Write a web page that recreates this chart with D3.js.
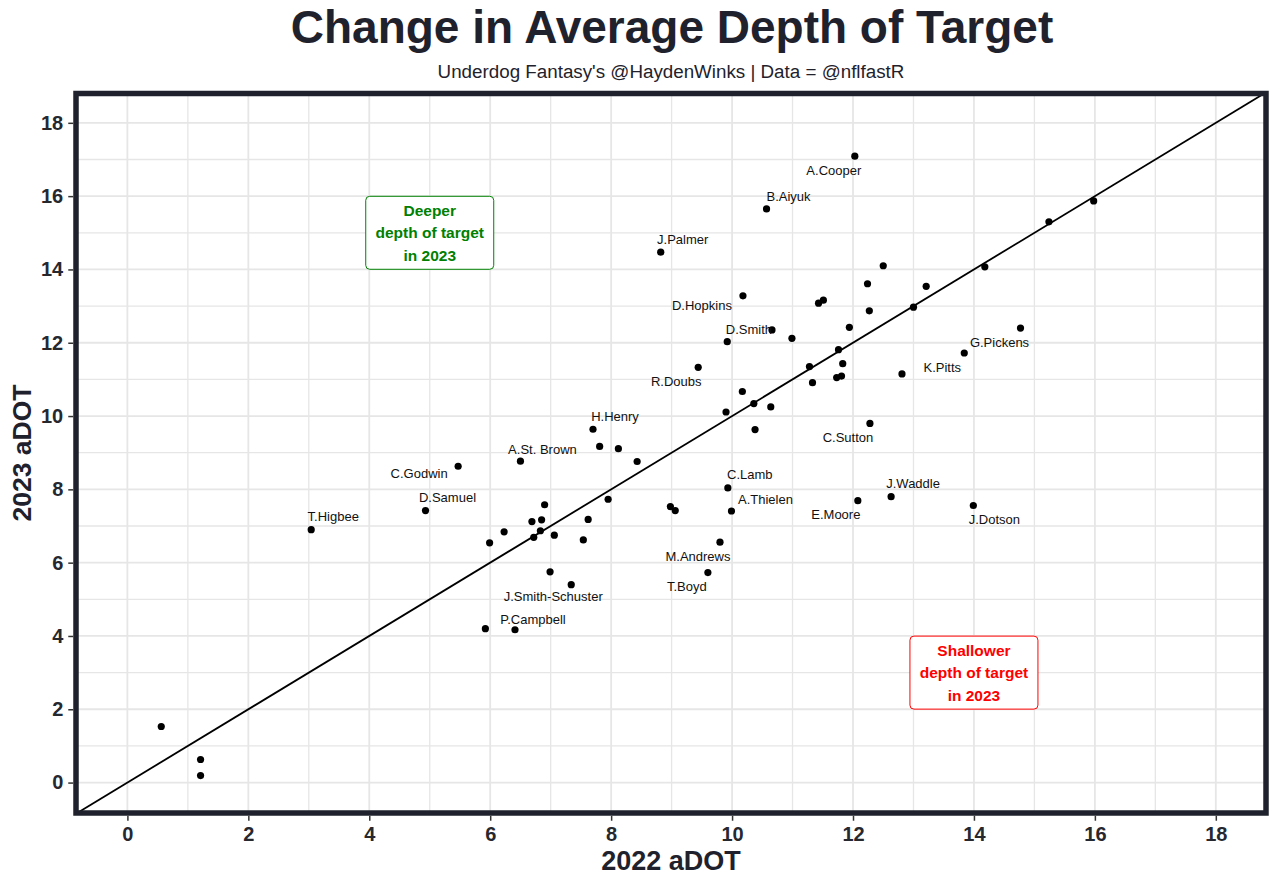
<!DOCTYPE html>
<meta charset="utf-8">
<html>
  <head>
  <title>Change in Average Depth of Target</title>
    <style>
      body {
        margin: 0;
        background: #ffffff;
        font-family: 'Liberation Sans', Arial, sans-serif;
      }
      .grid line { stroke: #e6e6e6; }
      .tick-label { font-weight: bold; fill: #262830; }
      .player { font-size: 13px; fill: #111111; }
    </style>
  </head>
  <body>
<div id="chart"></div>

<script src="https://cdn.jsdelivr.net/npm/d3@7"></script>
<script>

// 2022 aDOT vs 2023 aDOT per receiver ("" = no label)
var players = ["", "", "", "T.Higbee", "D.Samuel", "C.Godwin", "A.St. Brown", "H.Henry",
  "", "", "", "", "", "", "", "", "", "", "", "", "", "",
  "", "J.Smith-Schuster", "", "P.Campbell", "", "", "C.Lamb", "A.Thielen", "M.Andrews", "T.Boyd",
  "E.Moore", "J.Waddle", "J.Dotson", "C.Sutton", "A.Cooper", "B.Aiyuk", "J.Palmer",
  "", "", "", "D.Hopkins", "", "", "", "", "D.Smith", "", "", "", "",
  "R.Doubs", "", "", "", "", "", "", "", "", "", "", "", "K.Pitts", "G.Pickens", "", "", ""];

var adot2022 = [0.56, 1.21, 1.21, 3.04, 4.93, 5.47, 6.50, 7.70,
  7.81, 8.12, 8.43, 7.95, 6.90, 6.69, 6.85, 6.23, 5.99, 6.72, 6.83, 7.06, 7.54, 7.62,
  6.99, 7.34, 5.92, 6.41, 8.98, 9.06, 9.93, 9.99, 9.80, 9.60,
  12.08, 12.63, 13.99, 12.28, 12.03, 10.57, 8.82,
  12.50, 12.24, 13.21, 10.18, 11.43, 11.51, 12.27, 13.00, 10.66, 10.99, 11.94, 9.92, 11.76,
  9.44, 11.28, 11.83, 11.73, 11.81, 11.33, 10.17, 10.36, 10.64, 9.90, 10.38, 12.81, 13.84, 14.77, 14.18, 15.24, 15.98];

var adot2023 = [1.53, 0.63, 0.19, 6.90, 7.42, 8.63, 8.77, 9.64,
  9.17, 9.11, 8.76, 7.73, 7.58, 7.12, 7.17, 6.84, 6.54, 6.69, 6.87, 6.75, 6.62, 7.18,
  5.75, 5.40, 4.20, 4.17, 7.53, 7.42, 8.04, 7.41, 6.56, 5.73,
  7.69, 7.80, 7.56, 9.80, 17.09, 15.65, 14.47,
  14.10, 13.61, 13.54, 13.28, 13.08, 13.16, 12.87, 12.97, 12.35, 12.12, 12.42, 12.03, 11.81,
  11.33, 11.35, 11.43, 11.05, 11.09, 10.91, 10.67, 10.34, 10.25, 10.11, 9.63, 11.15, 11.72, 12.40, 14.07, 15.30, 15.87];

var tickValues = [0, 2, 4, 6, 8, 10, 12, 14, 16, 18];
var minorValues = [1, 3, 5, 7, 9, 11, 13, 15, 17];

var noteText = [["Deeper", "depth of target", "in 2023"], ["Shallower", "depth of target", "in 2023"]];
var noteX = [5, 14];
var noteY = [15, 3];
var noteColor = ["#008000", "#ff0000"];

// label placement (px from the dot), like ggrepel put them
var nudge = {
  "A.Cooper": [-21, 14], "B.Aiyuk": [22, -13], "J.Palmer": [22, -13], "D.Hopkins": [-41, 10],
  "D.Smith": [-23, 0], "R.Doubs": [-22, 14], "H.Henry": [22, -13], "C.Sutton": [-22, 14],
  "K.Pitts": [-22, 14], "G.Pickens": [-21, 14], "C.Lamb": [22, -13], "A.Thielen": [34, -12],
  "M.Andrews": [-22, 14], "T.Boyd": [-21, 14], "E.Moore": [-22, 14], "J.Waddle": [22, -13],
  "J.Dotson": [21, 14], "A.St. Brown": [22, -12], "C.Godwin": [-39, 7], "D.Samuel": [22, -13],
  "T.Higbee": [22, -13], "J.Smith-Schuster": [-18, 12], "P.Campbell": [18, -10]
};

var width = 1280;
var height = 885;
var dark = "#1f222c";

var svg = d3.select("#chart")
  .append("svg")
    .attr("width", width)
    .attr("height", height);

var pLeft = 76, pRight = 1266, pTop = 93.5, pBottom = 813;

var x = d3.scaleLinear().domain([-0.85, 18.83]).range([pLeft, pRight]);
var y = d3.scaleLinear().domain([-0.83, 18.8]).range([pBottom, pTop]);

// title + subtitle
svg.append("text")
  .attr("x", 672).attr("y", 43)
  .attr("text-anchor", "middle")
  .style("font-size", "46px").style("font-weight", "bold")
  .style("fill", dark)
  .text("Change in Average Depth of Target");

svg.append("text")
  .attr("x", 671).attr("y", 78)
  .attr("text-anchor", "middle")
  .style("font-size", "18.8px")
  .style("fill", dark)
  .text("Underdog Fantasy's @HaydenWinks | Data = @nflfastR");

// grid
var grid = svg.append("g").attr("class", "grid");
grid.selectAll(".vminor").data(minorValues).enter()
  .append("line")
    .attr("x1", d => x(d)).attr("x2", d => x(d))
    .attr("y1", pTop).attr("y2", pBottom)
    .style("stroke-width", 1.3);
grid.selectAll(".hminor").data(minorValues).enter()
  .append("line")
    .attr("y1", d => y(d)).attr("y2", d => y(d))
    .attr("x1", pLeft).attr("x2", pRight)
    .style("stroke-width", 1.3);
grid.selectAll(".vmajor").data(tickValues).enter()
  .append("line")
    .attr("x1", d => x(d)).attr("x2", d => x(d))
    .attr("y1", pTop).attr("y2", pBottom)
    .style("stroke-width", 1.8);
grid.selectAll(".hmajor").data(tickValues).enter()
  .append("line")
    .attr("y1", d => y(d)).attr("y2", d => y(d))
    .attr("x1", pLeft).attr("x2", pRight)
    .style("stroke-width", 1.8);

// y = x reference line
svg.append("line")
  .attr("x1", x(-0.85)).attr("y1", y(-0.85))
  .attr("x2", x(18.8)).attr("y2", y(18.8))
  .style("stroke", "#000").style("stroke-width", 1.8);

// annotation boxes
noteText.forEach(function (lines, i) {
  var g = svg.append("g");
  g.append("rect")
    .attr("x", x(noteX[i]) - 64).attr("y", y(noteY[i]) - 36.5)
    .attr("width", 128).attr("height", 73)
    .attr("rx", 4)
    .style("fill", "#fff")
    .style("stroke", noteColor[i]).style("stroke-width", 1);
  g.selectAll("text").data(lines).enter()
    .append("text")
      .attr("x", x(noteX[i]))
      .attr("y", (d, j) => y(noteY[i]) + (j - 1) * 22.5)
      .attr("dy", "0.36em")
      .attr("text-anchor", "middle")
      .style("font-size", "15.5px").style("font-weight", "bold")
      .style("fill", noteColor[i])
      .text(d => d);
});

// points
svg.selectAll(".dot").data(adot2022).enter()
  .append("circle")
    .attr("cx", d => x(d))
    .attr("cy", (d, i) => y(adot2023[i]))
    .attr("r", 3.6)
    .style("fill", "#000");

// labels
svg.selectAll(".player").data(players.map((p, i) => i).filter(i => players[i] !== "")).enter()
  .append("text")
    .attr("class", "player")
    .attr("x", i => x(adot2022[i]) + nudge[players[i]][0])
    .attr("y", i => y(adot2023[i]) + nudge[players[i]][1])
    .attr("dy", "0.35em")
    .attr("text-anchor", "middle")
    .text(i => players[i]);

// panel border
svg.append("rect")
  .attr("x", pLeft).attr("y", pTop)
  .attr("width", pRight - pLeft).attr("height", pBottom - pTop)
  .style("fill", "none").style("stroke", dark).style("stroke-width", 5.5);

// axes
var xAxis = svg.append("g")
  .attr("transform", "translate(0," + (pBottom + 2.75) + ")")
  .call(d3.axisBottom(x).tickValues(tickValues).tickSize(5).tickPadding(6));
var yAxis = svg.append("g")
  .attr("transform", "translate(" + (pLeft - 2.75) + ",0)")
  .call(d3.axisLeft(y).tickValues(tickValues).tickSize(5).tickPadding(5));

[xAxis, yAxis].forEach(function (a) {
  a.select(".domain").remove();
  a.selectAll(".tick line").style("stroke", "#333").style("stroke-width", 1.5);
  a.selectAll(".tick text")
    .attr("class", "tick-label")
    .style("font-size", "20px")
    .style("font-family", "'Liberation Sans', Arial, sans-serif");
});

// axis titles
svg.append("text")
  .attr("x", 671).attr("y", 870)
  .attr("text-anchor", "middle")
  .style("font-size", "27px").style("font-weight", "bold").style("fill", dark)
  .text("2022 aDOT");

svg.append("text")
  .attr("transform", "translate(31,453) rotate(-90)")
  .attr("text-anchor", "middle")
  .style("font-size", "26.5px").style("font-weight", "bold").style("fill", dark)
  .text("2023 aDOT");

</script>
  </body>
</html>
